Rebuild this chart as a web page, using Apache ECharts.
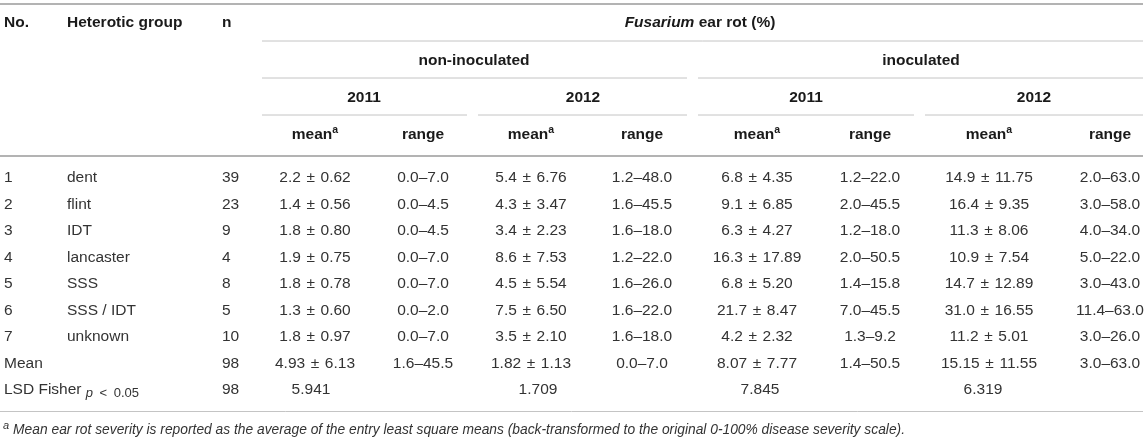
<!DOCTYPE html>
<html lang="en">
<head>
    <meta charset="utf-8">
    <title>Fusarium ear rot by heterotic group</title>
    <script src="https://cdn.jsdelivr.net/npm/echarts@6.0.0/dist/echarts.min.js"></script>
    <style>
        html, body { margin: 0; padding: 0; background: #fff; }
        #divTable { width: 1145px; height: 440px; }
    </style>
</head>
<body>
<div id="divTable"></div>

<script>
    // table content
    var groupNo = ['1', '2', '3', '4', '5', '6', '7'];
    var groups = ['dent', 'flint', 'IDT', 'lancaster', 'SSS', 'SSS / IDT', 'unknown'];
    var nEntries = [39, 23, 9, 4, 8, 5, 10];

    // [mean, sd] and [min, max] per group
    var nonInoc2011Mean = [[2.2, 0.62], [1.4, 0.56], [1.8, 0.80], [1.9, 0.75], [1.8, 0.78], [1.3, 0.60], [1.8, 0.97]];
    var nonInoc2011Range = [[0.0, 7.0], [0.0, 4.5], [0.0, 4.5], [0.0, 7.0], [0.0, 7.0], [0.0, 2.0], [0.0, 7.0]];
    var nonInoc2012Mean = [[5.4, 6.76], [4.3, 3.47], [3.4, 2.23], [8.6, 7.53], [4.5, 5.54], [7.5, 6.50], [3.5, 2.10]];
    var nonInoc2012Range = [[1.2, 48.0], [1.6, 45.5], [1.6, 18.0], [1.2, 22.0], [1.6, 26.0], [1.6, 22.0], [1.6, 18.0]];
    var inoc2011Mean = [[6.8, 4.35], [9.1, 6.85], [6.3, 4.27], [16.3, 17.89], [6.8, 5.20], [21.7, 8.47], [4.2, 2.32]];
    var inoc2011Range = [[1.2, 22.0], [2.0, 45.5], [1.2, 18.0], [2.0, 50.5], [1.4, 15.8], [7.0, 45.5], [1.3, 9.2]];
    var inoc2012Mean = [[14.9, 11.75], [16.4, 9.35], [11.3, 8.06], [10.9, 7.54], [14.7, 12.89], [31.0, 16.55], [11.2, 5.01]];
    var inoc2012Range = [[2.0, 63.0], [3.0, 58.0], [4.0, 34.0], [5.0, 22.0], [3.0, 43.0], [11.4, 63.0], [3.0, 26.0]];

    // overall rows
    var overallN = 98;
    var overallMean = [[4.93, 6.13], [1.82, 1.13], [8.07, 7.77], [15.15, 11.55]];
    var overallRange = [[1.6, 45.5], [0.0, 7.0], [1.4, 50.5], [3.0, 63.0]];
    var lsdN = 98;
    var lsdFisher = [5.941, 1.709, 7.845, 6.319];

    var treatments = ['non-inoculated', 'inoculated'];
    var years = ['2011', '2012'];

    // layout (pixels of the 1145 x 440 canvas)
    var leftX = [4, 67, 222];
    var valueX = [315, 423, 531, 642, 757, 870, 989, 1110];
    var lsdX = [311, 538, 760, 983];
    var treatX = [474, 921];
    var yearX = [364, 583, 806, 1034];
    var headY = [23, 61, 98, 135];
    var rowY0 = 178, rowStep = 26.5;

    var textColor = '#333333';
    var headColor = '#1a1a1a';
    var font = '"Liberation Sans", Arial, Helvetica, sans-serif';

    function pm(v, d) { return v[0].toFixed(d) + ' \u200a\u00b1\u200a ' + v[1].toFixed(2); }
    function rng(v) { return v[0].toFixed(1) + '\u2013' + v[1].toFixed(1); }

    var cells = [];
    function addCell(x, y, text, kind, align) {
        cells.push({x: x, y: y, text: text, kind: kind, align: align || 'center'});
    }

    // header
    addCell(leftX[0], headY[0], 'No.', 'head', 'left');
    addCell(leftX[1], headY[0], 'Heterotic group', 'head', 'left');
    addCell(leftX[2], headY[0], 'n', 'head', 'left');
    addCell(700, headY[0], '{hi|Fusarium} ear rot (%)', 'head');
    for (var t = 0; t < treatments.length; t++) {
        addCell(treatX[t], headY[1], treatments[t], 'head');
        for (var yy = 0; yy < years.length; yy++) {
            var k = t * 2 + yy;
            addCell(yearX[k], headY[2], years[yy], 'head');
            addCell(valueX[k * 2], headY[3], 'mean{sup|a}', 'head');
            addCell(valueX[k * 2 + 1], headY[3], 'range', 'head');
        }
    }

    // body
    var meanCols = [nonInoc2011Mean, nonInoc2012Mean, inoc2011Mean, inoc2012Mean];
    var rangeCols = [nonInoc2011Range, nonInoc2012Range, inoc2011Range, inoc2012Range];
    for (var i = 0; i < groups.length; i++) {
        var y = rowY0 + rowStep * i;
        addCell(leftX[0], y, groupNo[i], 'body', 'left');
        addCell(leftX[1], y, groups[i], 'body', 'left');
        addCell(leftX[2], y, String(nEntries[i]), 'body', 'left');
        for (var c = 0; c < 4; c++) {
            addCell(valueX[c * 2], y, pm(meanCols[c][i], 1), 'body');
            addCell(valueX[c * 2 + 1], y, rng(rangeCols[c][i]), 'body');
        }
    }
    var yMean = rowY0 + rowStep * groups.length;
    addCell(leftX[0], yMean, 'Mean', 'body', 'left');
    addCell(leftX[2], yMean, String(overallN), 'body', 'left');
    for (var c2 = 0; c2 < 4; c2++) {
        addCell(valueX[c2 * 2], yMean, pm(overallMean[c2], 2), 'body');
        addCell(valueX[c2 * 2 + 1], yMean, rng(overallRange[c2]), 'body');
    }
    var yLsd = yMean + rowStep;
    addCell(leftX[0], yLsd, 'LSD Fisher {subi|p}{sub|\u2002<\u20020.05}', 'body', 'left');
    addCell(leftX[2], yLsd, String(lsdN), 'body', 'left');
    for (var c3 = 0; c3 < 4; c3++) {
        addCell(lsdX[c3], yLsd, lsdFisher[c3].toFixed(3), 'body');
    }

    // footnote
    addCell(3, 430, '{fsup|a}Mean ear rot severity is reported as the average of the entry least square means ' +
        '(back-transformed to the original 0-100% disease severity scale).', 'note', 'left');

    // rules: [x1, x2, y, width]
    var rules = [
        [0, 1143, 4, 2],
        [262, 1143, 41, 1],
        [262, 687, 78, 1], [698, 1143, 78, 1],
        [262, 467, 115, 1], [478, 687, 115, 1], [698, 914, 115, 1], [925, 1143, 115, 1],
        [0, 1143, 156, 2],
        [0, 1143, 411.5, 1]
    ];

    var rich = {
        hi: {fontStyle: 'italic', fontWeight: 'bold', fontSize: 15.5, fontFamily: font, fill: headColor, lineHeight: 20},
        sup: {fontSize: 10.5, fontWeight: 'bold', fontFamily: font, fill: headColor, lineHeight: 10, verticalAlign: 'top'},
        sub: {fontSize: 13, fontFamily: font, fill: textColor, lineHeight: 8, verticalAlign: 'bottom'},
        subi: {fontSize: 13, fontStyle: 'italic', fontFamily: font, fill: textColor, lineHeight: 8, verticalAlign: 'bottom'},
        fsup: {fontSize: 11, fontStyle: 'italic', fontFamily: font, fill: textColor, lineHeight: 8,
            verticalAlign: 'top', padding: [0, 4, 0, 0]}
    };

    var myChart = echarts.init(document.getElementById('divTable'), null, {renderer: 'canvas'});

    var option = {
        animation: false,
        grid: {left: 0, right: 0, top: 0, bottom: 0},
        xAxis: {type: 'value', min: 0, max: 1145, show: false},
        yAxis: {type: 'value', min: 0, max: 440, inverse: true, show: false},
        series: [
            {
                name: 'rules',
                type: 'custom',
                silent: true,
                data: rules,
                renderItem: function (params, api) {
                    var r = rules[params.dataIndex];
                    var p1 = api.coord([r[0], r[2]]);
                    var p2 = api.coord([r[1], r[2]]);
                    return {
                        type: 'line',
                        shape: {x1: p1[0], y1: p1[1], x2: p2[0], y2: p2[1]},
                        style: {stroke: r[3] > 1 ? '#b3b3b3' : '#c4c4c4', lineWidth: r[3]}
                    };
                }
            },
            {
                name: 'cells',
                type: 'custom',
                silent: true,
                data: cells.map(function (c) { return [c.x, c.y]; }),
                renderItem: function (params, api) {
                    var cell = cells[params.dataIndex];
                    var p = api.coord([cell.x, cell.y]);
                    var isHead = cell.kind === 'head';
                    var isNote = cell.kind === 'note';
                    return {
                        type: 'text',
                        x: p[0],
                        y: p[1],
                        style: {
                            text: cell.text,
                            fill: isHead ? headColor : textColor,
                            fontFamily: font,
                            fontSize: isNote ? 13.8 : 15.5,
                            fontWeight: isHead ? 'bold' : 'normal',
                            fontStyle: isNote ? 'italic' : 'normal',
                            lineHeight: 20,
                            align: cell.align,
                            verticalAlign: 'middle',
                            rich: rich
                        }
                    };
                }
            }
        ]
    };

    myChart.setOption(option);
</script>
</body>
</html>
